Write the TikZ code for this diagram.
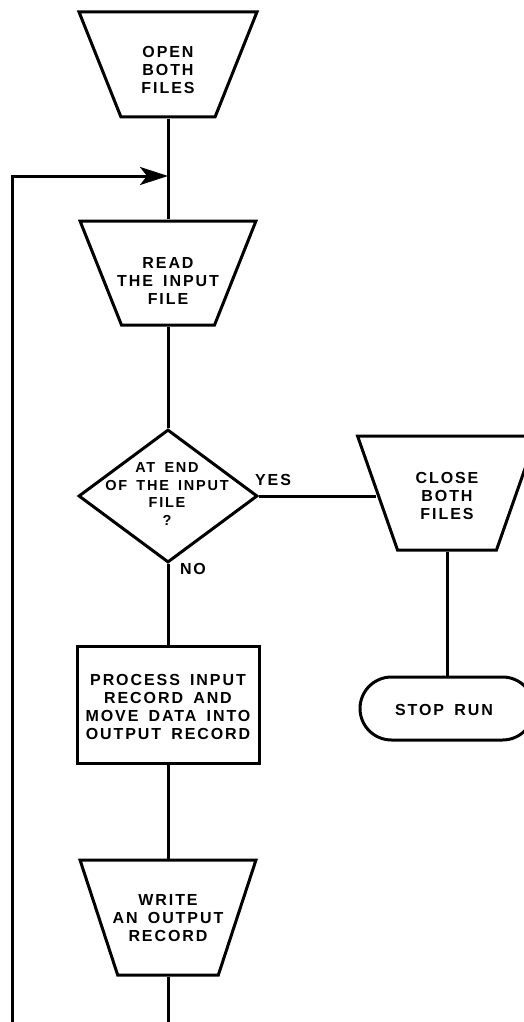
\documentclass[tikz,border=0pt]{standalone}
\usepackage{fontspec}
\setmainfont{Liberation Sans}[LetterSpace=12,WordSpace=1.6]
\usetikzlibrary{shapes.geometric,shapes.misc,arrows.meta}
\begin{document}
\begin{tikzpicture}[x=1pt,y=-1pt,
  lbl/.style={font=\bfseries\fontsize{16}{18}\selectfont, align=center, inner sep=0pt},
  lbls/.style={font=\bfseries\fontsize{14.5}{17.5}\selectfont, align=center, inner sep=0pt},
  trap/.style={draw, trapezium, shape border rotate=180, trapezium stretches=true, line width=3pt, inner sep=3pt},
  box/.style={draw, rectangle, line width=3pt, inner sep=3pt},
  dia/.style={draw, diamond, line width=3pt, inner sep=3pt},
  term/.style={draw, rounded rectangle, line width=3pt, inner sep=3pt},
  flow/.style={draw, line width=3pt}]
\useasboundingbox (0,0) rectangle (524,1022);
\clip (0,0) rectangle (524,1022);
% shapes
\node[trap, trapezium angle=66, minimum width=178pt, minimum height=105pt] (open) at (168,64.5) {};
\node[lbl] (opentxt) at (168,70) {OPEN\\BOTH\\FILES};
\node[trap, trapezium angle=66, minimum width=176pt, minimum height=104pt] (read) at (168,273) {};
\node[lbl] (readtxt) at (168,281) {READ\\THE INPUT\\FILE};
\node[dia, minimum width=179pt, minimum height=133pt] (dec) at (168,496) {};
\node[lbls] (dectxt) at (167,494) {AT END\\OF THE INPUT\\FILE\\?};
\node[trap, trapezium angle=68, minimum width=179pt, minimum height=114pt] (close) at (447,493) {};
\node[lbl] (closetxt) at (447,496) {CLOSE\\BOTH\\FILES};
\node[term, minimum width=180pt, minimum height=63pt] (stop) at (447,708.5) {};
\node[lbl] (stoptxt) at (444,710) {STOP RUN};
\node[box, minimum width=182pt, minimum height=117pt] (proc) at (168,704.5) {};
\node[lbl] (proctxt) at (168,707) {PROCESS INPUT\\RECORD AND\\MOVE DATA INTO\\OUTPUT RECORD};
\node[trap, trapezium angle=69.5, minimum width=176pt, minimum height=115pt] (write) at (168,917.5) {};
\node[lbl] (writetxt) at (168,918) {WRITE\\AN OUTPUT\\RECORD};
\node[lbl] (yes) at (273,480) {YES};
\node[lbl] (no) at (193,569) {NO};
% coordinates
\coordinate (join) at (168,176);
\coordinate (mainbot) at (168,1030);
\coordinate (loopbot) at (12,1030);
% connectors
\draw[flow] (open.south) -- (read.north);
\draw[flow] (read.south) -- (dec.north);
\draw[flow] (dec.east) -- (dec.east -| close.west);
\draw[flow] (close.south) -- (stop.north);
\draw[flow] (dec.south) -- (proc.north);
\draw[flow] (proc.south) -- (write.north);
\draw[flow] (write.south) -- (mainbot);
\draw[flow, -{Stealth[length=28pt,width=18pt,inset=7pt]}] (loopbot) |- (join);
\end{tikzpicture}
\end{document}
